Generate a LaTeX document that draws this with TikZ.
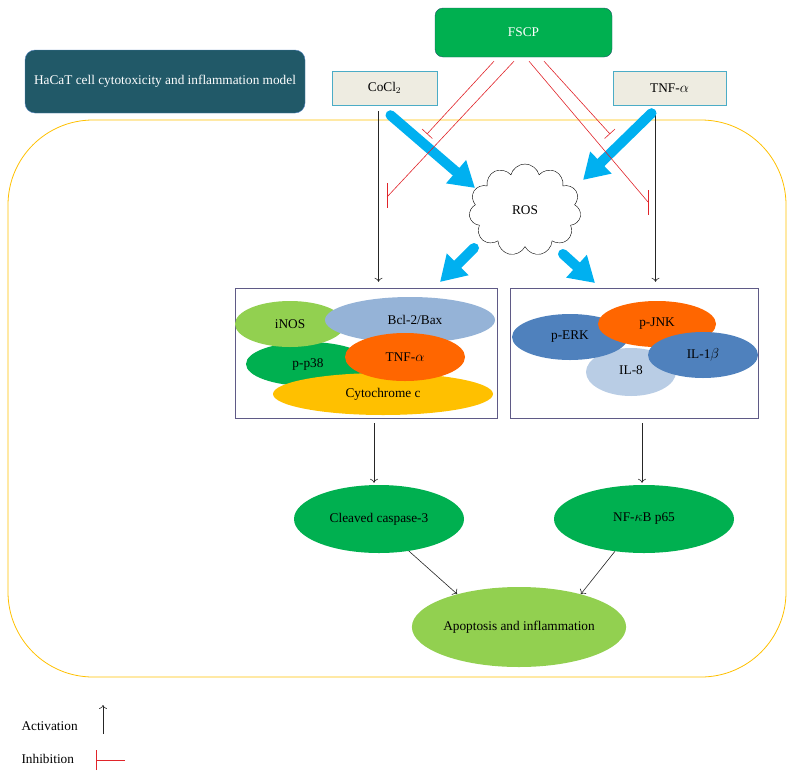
\documentclass[tikz,border=0pt]{standalone}
\usepackage{fontspec}
\setmainfont{Liberation Serif}
\usepackage{amsmath}
\usepackage{tikz}
\usetikzlibrary{
  arrows.meta,
  positioning,
  calc,
  shapes.geometric,
  shapes.symbols
}

\definecolor{verde}{HTML}{00B050}
\definecolor{verdeclaro}{HTML}{92D050}
\definecolor{petroleo}{HTML}{215968}
\definecolor{bege}{HTML}{EEECE1}
\definecolor{celeste}{HTML}{4BACC6}
\definecolor{amarelo}{HTML}{FFC000}
\definecolor{laranja}{HTML}{FF6600}
\definecolor{azul}{HTML}{4F81BD}
\definecolor{azulclaro}{HTML}{95B3D7}
\definecolor{azulpalido}{HTML}{B9CDE5}
\definecolor{ciano}{HTML}{00B0F0}
\definecolor{vermelho}{HTML}{E0242A}
\definecolor{lilas}{HTML}{5F5A86}

\begin{document}
\begin{tikzpicture}[
    x=1pt, y=-1pt,
    font=\fontsize{13.3}{15}\selectfont,
    caixa/.style={
    draw=celeste,
    fill=bege,
    minimum height=34pt,
    inner sep=0pt
    },
    painel/.style={draw=lilas, minimum height=130pt},
    elipse/.style={ellipse, inner sep=0pt},
    seta/.style={-{To[length=4pt,width=8pt]}, line width=0.6pt, black!85},
    inib/.style={vermelho, line width=0.6pt},
    grossa/.style={ciano, line width=10pt, line cap=round,
    -{Triangle[length=25pt,width=29pt]}}
    ]
    
    \useasboundingbox (0,0) rectangle (794,779);
    
    \draw[amarelo, line width=0.8pt, rounded corners=85pt] (8,120) rectangle (786,677);
    
    \node[draw=petroleo, fill=verde, rounded corners=8pt, text=white,
    minimum width=177pt, minimum height=49pt] (fscp) at (523.5,32.5)
    {FSCP};
    
    \node[draw=azul, fill=petroleo, rounded corners=10pt, text=white,
    minimum width=280pt, minimum height=63pt] (modelo) at (165,81.5)
    {HaCaT cell cytotoxicity and inflammation model};
    
    \node[caixa, minimum width=105pt] (cocl) at (384.5,88)
    {CoCl$_2$};
    
    \node[caixa, minimum width=113pt] (tnf) at (669.5,88)
    {TNF-$\alpha$};
    
    \node[cloud, draw, cloud puffs=11, aspect=1.25,
    minimum width=112pt, minimum height=92pt, inner sep=0pt] (ros) at (525,210)
    {ROS};
    
    \node[painel, minimum width=262pt] (esq) at (366,353) {};
    \node[painel, minimum width=248pt] (dir) at (634,353) {};
    
    \node[elipse, fill=verde, minimum width=124pt, minimum height=44pt] (pp38) at (308,364) {};
    \node[elipse, fill=verdeclaro, minimum width=110pt, minimum height=46pt] (inos) at (290,324) {};
    \node[elipse, fill=azulclaro, minimum width=170pt, minimum height=46pt] (bcl) at (410,320) {};
    \node[elipse, fill=amarelo, minimum width=220pt, minimum height=42pt] (cyto) at (383,394) {Cytochrome c};
    \node[elipse, fill=laranja, minimum width=120pt, minimum height=48pt] (tnfa) at (405,357) {TNF-$\alpha$};
    \node at (pp38) {p-p38};
    \node at (inos) {iNOS};
    \node at ([xshift=5pt]bcl.center) {Bcl-2/Bax};
    
    \node[elipse, fill=azulpalido, minimum width=90pt, minimum height=48pt] (il8) at (631,372) {};
    \node[elipse, fill=azul, minimum width=116pt, minimum height=46pt] (perk) at (570,337) {p-ERK};
    \node[elipse, fill=laranja, minimum width=118pt, minimum height=46pt] (pjnk) at (657,324) {p-JNK};
    \node[elipse, fill=azul, minimum width=110pt, minimum height=46pt] (il1b) at (703,355) {IL-1$\beta$};
    \node at ([yshift=2pt]il8.center) {IL-8};
    
    \node[elipse, fill=verde, minimum width=170pt, minimum height=68pt] (casp) at (379,519)
    {Cleaved caspase-3};
    
    \node[elipse, fill=verde, minimum width=180pt, minimum height=68pt] (nfkb) at (644,519)
    {NF-$\kappa$B p65};
    
    \node[elipse, fill=verdeclaro, minimum width=210pt, minimum height=80pt] (apop) at (519,627)
    {Apoptosis and inflammation};
    
    \coordinate (a1) at ($(cocl.south)+(-6,6)$);
    \coordinate (a2) at ($(tnf.south)+(-14,6)$);
    \coordinate (b1) at ($(esq.south)+(8,0)$);
    \coordinate (b2) at ($(dir.south)+(8,0)$);
    
    \draw[seta, shorten >=6pt] (a1) -- (a1 |- esq.north);
    \draw[seta, shorten >=6pt] (a2) -- (a2 |- dir.north);
    \draw[seta, shorten <=5pt, shorten >=2pt] (b1) -- (b1 |- casp.north);
    \draw[seta, shorten <=5pt, shorten >=2pt] (b2) -- (b2 |- nfkb.north);
    \draw[seta] (casp.-47) -- (apop.152);
    \draw[seta] (nfkb.-132) -- (apop.28);
    
    \draw[grossa] ($(cocl.south)+(6,10)$) -- ($(ros)+(-50,-22)$);
    \draw[grossa] ($(tnf.south)+(-18,8)$) -- ($(ros)+(58,-30)$);
    \draw[grossa] ($(ros)+(-51,38)$) -- ($(ros)+(-85,72)$);
    \draw[grossa] ($(ros)+(38,44)$) -- ($(ros)+(70,73)$);
    
    \coordinate (ia) at (427,134);
    \coordinate (ib) at (387,197);
    \coordinate (ic) at (648,202);
    \coordinate (id) at (610,134);
    
    \draw[inib, -{Bar[width=14pt]}] ($(fscp.south)+(-29.5,4)$) -- (ia);
    \draw[inib] ($(fscp.south)+(-9.5,4)$) -- (ib);
    \draw[inib] ($(ib)+(0,-14)$) -- ($(ib)+(0,11)$);
    \draw[inib] ($(fscp.south)+(5.5,4)$) -- (ic);
    \draw[inib] ($(ic)+(0,-12)$) -- ($(ic)+(0,13)$);
    \draw[inib, -{Bar[width=14pt]}] ($(fscp.south)+(20.5,4)$) -- (id);
    
    \node[anchor=west] (leg1) at (18,726) {Activation};
    \node[anchor=west] (leg2) at (18,759) {Inhibition};
    \coordinate (l1) at (103,734);
    \coordinate (l2) at (125,760);
    \draw[seta] (l1) -- ++(0,-29);
    \draw[inib, -{Bar[width=20pt]}] (l2) -- ++(-29,0);
    
    \end{tikzpicture}
\end{document}
